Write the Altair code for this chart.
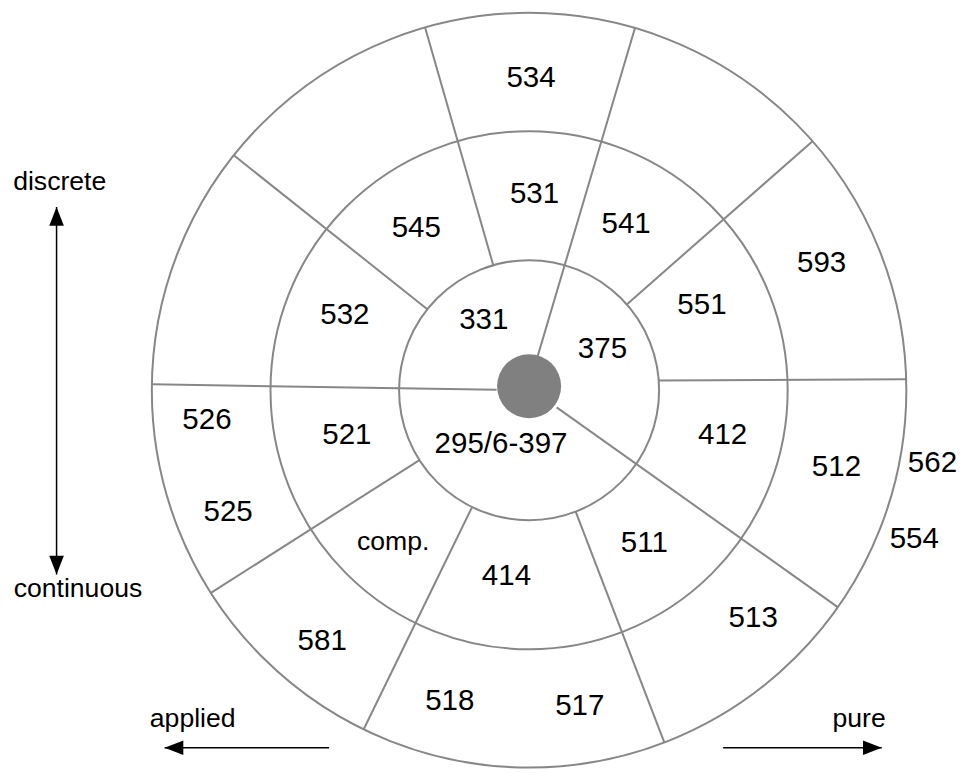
import altair as alt
import pandas as pd

# ---------------- data (diagram units = reference pixels, origin at disc centre, y up)
ring_radius = [383, 262.5, 132]
hub_x = [0]
hub_y = [4]
hub_radius = [32.5]

# radial dividers: start angle/radius, end angle/radius (degrees, counter-clockwise from east)
line_a1 = [76, 179.1, -32, 4.3, 41.3, 106, 141.5, 212.5, 244, -69]
line_a2 = [73.7, 179.1, -35.1, 1.65, 41.3, 106, 141.5, 212.5, 244, -69]
line_r1 = [33, 33, 33, 132, 132, 132, 132, 132, 132, 132]
line_r2 = [383, 383, 383, 383, 383, 383, 383, 383, 383, 383]

# cell labels (text, x, baseline y)
cell_text = ["534", "531", "545", "541", "593", "532", "331", "551", "375",
             "526", "521", "295/6-397", "412", "512", "562", "525", "comp.",
             "511", "554", "414", "513", "581", "518", "517"]
cell_x = [2, 5.5, -114.5, 98.5, 297, -187, -46, 175.5, 74.5,
          -327, -185, -28.5, 196.5, 312, 409.5, -305.5, -138,
          117, 391, -23, 227.5, -210, -80.5, 51.5]
cell_y = [308, 190, 156, 160, 120, 67, 62, 77, 33,
          -39, -55, -64, -55, -87, -83, -133, -162,
          -164, -160, -198, -240, -264, -325, -330]

# axis captions
cap_text = ["discrete", "continuous", "applied", "pure"]
cap_x = [-476.5, -458, -341.5, 335]
cap_y = [203, -210, -342, -342]

# arrows: shafts and heads
shaft_x1 = [-479.7, -370, 197]
shaft_y1 = [186, -363, -363]
shaft_x2 = [-479.7, -203, 358]
shaft_y2 = [-187, -363, -363]
head_x = [-479.7, -479.7, -370, 358]
head_y = [186, -187, -363, -363]
head_dir = [0, 180, 270, 90]

# ---------------- layout
S = 0.985
W, H = 955, 764
X_DOM = [-529, 440.5]
Y_DOM = [-387.6, 388]
GRAY = "#878787"

xs = alt.Scale(domain=X_DOM, nice=False, zero=False)
ys = alt.Scale(domain=Y_DOM, nice=False, zero=False)

rings_df = pd.DataFrame({"cx": [0] * len(ring_radius), "cy": [0] * len(ring_radius), "r": ring_radius})
hub_df = pd.DataFrame({"cx": hub_x, "cy": hub_y, "r": hub_radius})
lines_df = pd.DataFrame({"a1": line_a1, "a2": line_a2, "r1": line_r1, "r2": line_r2})
cells_df = pd.DataFrame({"t": cell_text, "x": cell_x, "y": cell_y})
caps_df = pd.DataFrame({"t": cap_text, "x": cap_x, "y": cap_y})
shafts_df = pd.DataFrame({"x1": shaft_x1, "y1": shaft_y1, "x2": shaft_x2, "y2": shaft_y2})
heads_df = pd.DataFrame({"x": head_x, "y": head_y, "ang": head_dir})

# circle symbol: diameter in pixels = sqrt(size)
size_expr = f"pow(2 * datum.r * {S}, 2)"

rings = alt.Chart(rings_df).transform_calculate(sz=size_expr).mark_point(
    shape="circle", filled=False, color=GRAY, opacity=1, strokeWidth=2
).encode(
    x=alt.X("cx:Q", scale=xs, axis=None),
    y=alt.Y("cy:Q", scale=ys, axis=None),
    size=alt.Size("sz:Q", scale=None),
)

lines = alt.Chart(lines_df).transform_calculate(
    x1="datum.r1 * cos(datum.a1 * PI / 180)",
    y1="datum.r1 * sin(datum.a1 * PI / 180)",
    x2="datum.r2 * cos(datum.a2 * PI / 180)",
    y2="datum.r2 * sin(datum.a2 * PI / 180)",
).mark_rule(color=GRAY, strokeWidth=2).encode(
    x=alt.X("x1:Q", scale=xs, axis=None),
    y=alt.Y("y1:Q", scale=ys, axis=None),
    x2="x2:Q",
    y2="y2:Q",
)

hub = alt.Chart(hub_df).transform_calculate(sz=size_expr).mark_point(
    shape="circle", filled=True, color="#808080", opacity=1, strokeWidth=0
).encode(
    x=alt.X("cx:Q", scale=xs, axis=None),
    y=alt.Y("cy:Q", scale=ys, axis=None),
    size=alt.Size("sz:Q", scale=None),
)

cells = alt.Chart(cells_df).mark_text(
    align="center", baseline="alphabetic", font="Liberation Sans", color="black"
).encode(
    x=alt.X("x:Q", scale=xs, axis=None),
    y=alt.Y("y:Q", scale=ys, axis=None),
    text="t:N",
    size=alt.condition("datum.t == 'comp.'", alt.value(26.6), alt.value(29.5)),
)

caps = alt.Chart(caps_df).mark_text(
    align="center", baseline="alphabetic", font="Liberation Sans", color="black", fontSize=26.6
).encode(
    x=alt.X("x:Q", scale=xs, axis=None),
    y=alt.Y("y:Q", scale=ys, axis=None),
    text="t:N",
)

shafts = alt.Chart(shafts_df).mark_rule(color="black", strokeWidth=1.5).encode(
    x=alt.X("x1:Q", scale=xs, axis=None),
    y=alt.Y("y1:Q", scale=ys, axis=None),
    x2="x2:Q",
    y2="y2:Q",
)

heads = alt.Chart(heads_df).mark_point(
    shape="M0,0L0.39,1L-0.39,1Z", filled=True, color="black", opacity=1, size=1400, strokeWidth=0
).encode(
    x=alt.X("x:Q", scale=xs, axis=None),
    y=alt.Y("y:Q", scale=ys, axis=None),
    angle=alt.Angle("ang:Q", scale=None),
)

chart = alt.layer(rings, lines, hub, cells, caps, shafts, heads).properties(
    width=W, height=H, padding=0, autosize="none", background="white"
).configure_view(strokeWidth=0)

chart.save("out.html", embed_options={"renderer": "svg", "actions": False})
